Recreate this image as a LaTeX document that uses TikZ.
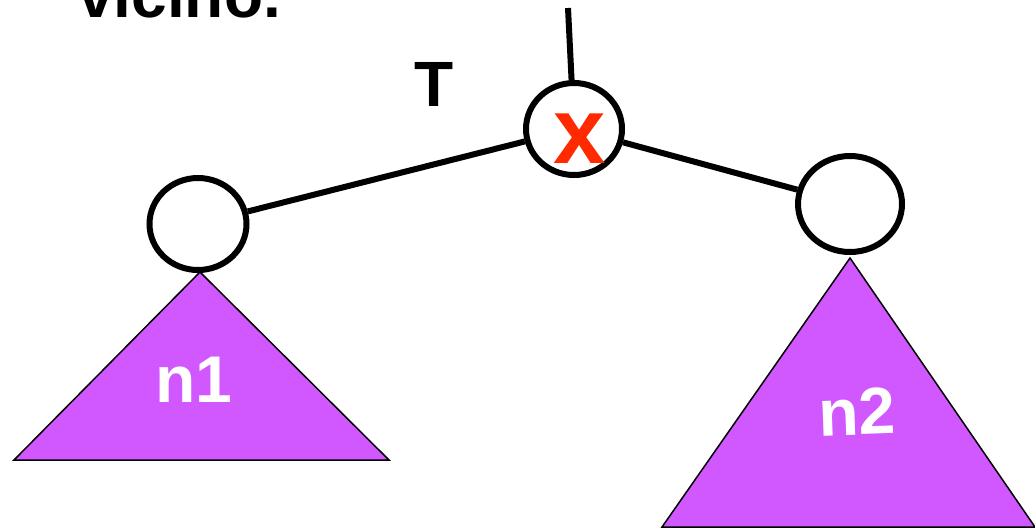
\documentclass[tikz,border=0pt]{standalone}
\usepackage{fontspec}
\setmainfont{Liberation Sans}
\usetikzlibrary{shapes.geometric}
\definecolor{tri}{HTML}{D158FF}
\definecolor{xred}{HTML}{FF2A00}
\tikzset{
  treenode/.style={ellipse, draw=black, line width=6pt, fill=white, inner sep=0pt},
  edge/.style={line width=6pt, black},
  subtree/.style={fill=tri, draw=black, line width=1.5pt, line join=miter},
  lbl/.style={inner sep=0pt, anchor=base, font=\bfseries},
}
\begin{document}
\begin{tikzpicture}[x=1pt,y=-1pt]
\useasboundingbox (0,0) rectangle (1035,528);
% subtrees
\coordinate (a1) at (200,272);
\coordinate (l1) at (14,460);
\coordinate (r1) at (389,460);
\coordinate (a2) at (850,258);
\coordinate (l2) at (662,527);
\coordinate (r2) at (1035,527);
\path[subtree] (a1) -- (r1) -- (l1) -- cycle;
\path[subtree] (a2) -- (r2) -- (l2) -- cycle;
% nodes
\node[treenode, minimum width=96pt, minimum height=92pt] (root) at (574,129) {};
\node[treenode, minimum width=97pt, minimum height=92pt] (left) at (198,224) {};
\node[treenode, minimum width=104pt, minimum height=96pt] (right) at (850,204) {};
\coordinate (top) at (568,8);
\draw[edge] (top) -- (root);
\draw[edge] (root) -- (left);
\draw[edge] (root) -- (right);
% labels
\node[lbl, text=xred, font=\bfseries\fontsize{94}{94}\selectfont] (xl) at (580,163) {x};
\node[lbl, font=\bfseries\fontsize{64}{64}\selectfont, anchor=base west] (tl) at (414,106) {T};
\node[lbl, font=\bfseries\fontsize{64}{64}\selectfont, anchor=base west] (vl) at (78,17) {vicino.};
\node[lbl, text=white, font=\bfseries\fontsize{66}{66}\selectfont] (n1) at (194,402) {n1};
\node[lbl, text=white, font=\bfseries\fontsize{66}{66}\selectfont, rotate=2] (n2) at (858,435) {n2};
\end{tikzpicture}
\end{document}
